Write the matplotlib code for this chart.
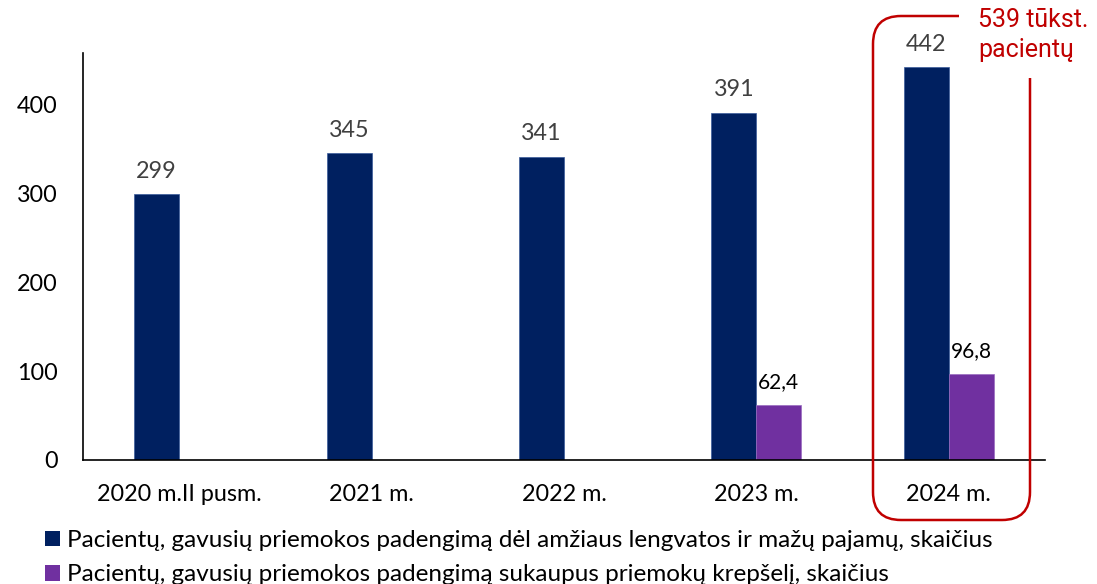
import matplotlib
matplotlib.use("Agg")
import matplotlib.pyplot as plt
import numpy as np
from matplotlib.path import Path
from matplotlib.patches import PathPatch, Patch

categories = ["2020 m.II pusm.", "2021 m.", "2022 m.", "2023 m.", "2024 m."]
series1 = [299, 345, 341, 391, 442]
series2 = [None, None, None, 62.4, 96.8]
series1_name = "Pacientų, gavusių priemokos padengimą dėl amžiaus lengvatos ir mažų pajamų, skaičius"
series2_name = "Pacientų, gavusių priemokos padengimą sukaupus priemokų krepšelį, skaičius"
callout = "539 tūkst.\npacientų"

DARK = "#002060"
PURPLE = "#7030A0"
RED = "#C00000"

plt.rcParams['font.family'] = ['Lato', 'DejaVu Sans']

W, H = 1097, 584
fig = plt.figure(figsize=(W/100, H/100), dpi=100)
ax = fig.add_axes([83/W, 1-460/H, (1045-83)/W, (460-53)/H])

x = np.arange(len(categories))
bw = 0.234
ax.bar(x - bw/2, series1, width=bw, color=DARK, edgecolor="#3a5a9a", linewidth=0.5)
s2x = [xi + bw/2 for xi, v in zip(x, series2) if v is not None]
s2v = [v for v in series2 if v is not None]
ax.bar(s2x, s2v, width=bw, color=PURPLE, edgecolor="#9a6cc0", linewidth=0.5)

for xi, v in zip(x, series1):
    ax.annotate(f"{v}", (xi - bw/2, v), xytext=(0, 9), textcoords="offset points",
                ha="center", va="bottom", fontsize=16.8, color="#404040")
for xi, v in zip(s2x, s2v):
    ax.annotate(f"{v}".replace(".", ","), (xi, v), xytext=(0, 9), textcoords="offset points",
                ha="center", va="bottom", fontsize=15, color="black")

ax.set_xlim(-0.5, len(categories) - 0.5)
ax.set_ylim(0, 458)
ax.set_yticks([0, 100, 200, 300, 400])
ax.set_xticks(x)
ax.set_xticklabels(categories)
ax.tick_params(axis='both', length=0, labelsize=16.8, colors="black")
ax.tick_params(axis='y', pad=18)
ax.tick_params(axis='x', pad=17)
for s in ["top", "right"]:
    ax.spines[s].set_visible(False)
ax.spines["left"].set_color("black")
ax.spines["bottom"].set_color("black")
ax.spines["left"].set_linewidth(1.2)
ax.spines["bottom"].set_linewidth(1.2)

# Red callout frame (figure pixels -> fraction)
def P(px, py):
    return (px / W, 1 - py / H)
L, R, T, B, r = 873, 1030, 16, 520, 28
verts = [P(959, T), P(L + r, T), P(L, T), P(L, T + r), P(L, B - r), P(L, B), P(L + r, B),
         P(R - r, B), P(R, B), P(R, B - r), P(R, 78)]
codes = [Path.MOVETO, Path.LINETO, Path.CURVE3, Path.CURVE3, Path.LINETO, Path.CURVE3, Path.CURVE3,
         Path.LINETO, Path.CURVE3, Path.CURVE3, Path.LINETO]
fig.add_artist(PathPatch(Path(verts, codes), transform=fig.transFigure, fill=False,
                         edgecolor=RED, linewidth=1.8, capstyle="butt"))
fig.text(978/W, 1 - 35/H, callout, color=RED, fontsize=18, ha="left", va="center",
         family=["Roboto", "DejaVu Sans"], linespacing=1.3)

handles = [Patch(facecolor=DARK), Patch(facecolor=PURPLE)]
fig.legend(handles, [series1_name, series2_name], loc="upper left",
           bbox_to_anchor=(45/W, 1 - 530/H), frameon=False, fontsize=17.5,
           handlelength=0.6, handleheight=0.6, handletextpad=0.3, labelspacing=0.55,
           borderaxespad=0, borderpad=0)

fig.savefig("out.png", dpi=100)
